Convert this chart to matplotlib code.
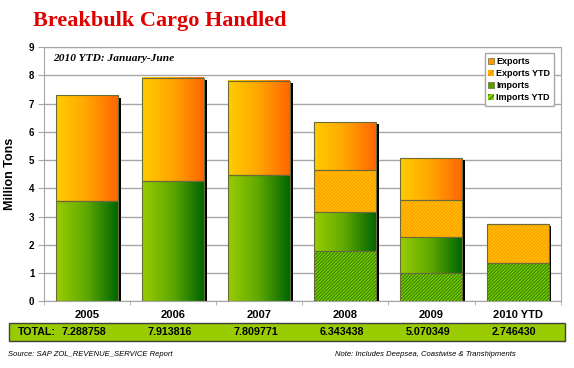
import numpy as np
import matplotlib
matplotlib.use('Agg')
import matplotlib.pyplot as plt
from matplotlib.colors import LinearSegmentedColormap
from matplotlib.patches import Rectangle, Patch

# Dados (milhões de toneladas)
years = ['2005', '2006', '2007', '2008', '2009', '2010 YTD']
imports_ytd = [0, 0, 0, 1.78, 1.00, 1.35]
imports = [3.55, 4.26, 4.48, 1.40, 1.27, 0]
exports_ytd = [0, 0, 0, 1.48, 1.32, 1.396]
exports = [3.739, 3.654, 3.33, 1.683, 1.48, 0]
totals = ['7.288758', '7.913816', '7.809771', '6.343438', '5.070349', '2.746430']

plt.rcParams['font.family'] = 'Liberation Sans'
plt.rcParams['hatch.linewidth'] = 0.9

fig = plt.figure(figsize=(5.74, 3.68), dpi=100)
ax = fig.add_axes([0.0767, 0.181, 0.900, 0.691])

x = np.arange(len(years))
w = 0.72
edge = '#6b6b3a'

cmap_orange = LinearSegmentedColormap.from_list('or', ['#FFCC00', '#FFA500', '#FF6600'])
cmap_green = LinearSegmentedColormap.from_list('gr', ['#99CC00', '#5EA800', '#006600'])
grad = np.linspace(0, 1, 128).reshape(1, -1)

b0 = np.zeros(len(years))
b1 = b0 + np.array(imports_ytd)
b2 = b1 + np.array(imports)
b3 = b2 + np.array(exports_ytd)
top = b3 + np.array(exports)

# sombra preta
ax.bar(x + 0.03, top - 0.08, w, color='black', zorder=1.5)


def hatched(vals, bottom, face, stripe):
    ax.bar(x, vals, w, bottom=bottom, facecolor=face, edgecolor=stripe,
           hatch='//////////', linewidth=0, zorder=2)
    ax.bar(x, vals, w, bottom=bottom, fill=False, edgecolor=edge,
           linewidth=0.8, zorder=3)


def gradient(vals, bottom, cmap):
    bars = ax.bar(x, vals, w, bottom=bottom, fill=False, edgecolor=edge,
                  linewidth=0.8, zorder=3)
    for r in bars:
        if r.get_height() <= 0:
            continue
        x0, y0 = r.get_x(), r.get_y()
        ax.imshow(grad, extent=[x0, x0 + r.get_width(), y0, y0 + r.get_height()],
                  aspect='auto', cmap=cmap, zorder=2, interpolation='bilinear')


hatched(imports_ytd, b0, '#8CD000', '#2E8A00')
gradient(imports, b1, cmap_green)
hatched(exports_ytd, b2, '#FF9900', '#FFC400')
gradient(exports, b3, cmap_orange)

ax.set_xlim(-0.5, len(years) - 0.5)
ax.set_ylim(0, 9)
ax.set_yticks(range(0, 10))
ax.yaxis.grid(True, color='#a6a6a6', linewidth=1.0, zorder=0)
ax.set_axisbelow(True)
for s in ax.spines.values():
    s.set_color('#a6a6a6')
ax.tick_params(axis='y', length=4, color='#a6a6a6', labelsize=7, pad=3)
for lab in ax.get_yticklabels():
    lab.set_fontweight('bold')
ax.set_xticks(x)
ax.set_xticklabels(years, fontsize=8, fontweight='bold')
ax.tick_params(axis='x', length=0, pad=6)
ax.set_xticks(np.arange(-0.5, len(years)), minor=True)
ax.tick_params(axis='x', which='minor', length=3, color='#a6a6a6')
ax.set_ylabel('Million Tons', fontsize=9, fontweight='bold', labelpad=9)

ax.text(0.017, 0.955, '2010 YTD: January-June', transform=ax.transAxes,
        fontsize=8.2, fontweight='bold', style='italic', family='Liberation Serif',
        va='center')

handles = [
    Patch(facecolor='#FF9900', edgecolor=edge, linewidth=0.5),
    Patch(facecolor='#FF9900', edgecolor='#FFC400', hatch='//////', linewidth=0),
    Patch(facecolor='#4FA000', edgecolor=edge, linewidth=0.5),
    Patch(facecolor='#8CD000', edgecolor='#2E8A00', hatch='//////', linewidth=0),
]
leg = ax.legend(handles, ['Exports', 'Exports YTD', 'Imports', 'Imports YTD'],
                loc='upper right', bbox_to_anchor=(0.987, 0.976), borderaxespad=0,
                prop={'size': 6.5, 'weight': 'bold'}, handlelength=0.6,
                handleheight=0.6, handletextpad=0.3, labelspacing=0.35,
                borderpad=0.4, fancybox=False, framealpha=1, edgecolor='#a6a6a6')
leg.set_zorder(5)

# título
fig.text(0.057, 0.943, 'Breakbulk Cargo Handled', fontsize=16, fontweight='bold',
         family='Liberation Serif', color='#E00000', va='center')

# linha de totais
fig.patches.append(Rectangle((9 / 574, 1 - 341 / 368), 556 / 574, 18 / 368,
                             transform=fig.transFigure, facecolor='#99CC00',
                             edgecolor='#404040', linewidth=1.0, zorder=1))
ty = 1 - 332 / 368
fig.text(18 / 574, ty, 'TOTAL:', fontsize=7.7, fontweight='bold', va='center')
for i, t in enumerate(totals):
    xd = ax.transData.transform((x[i] - 0.04, 0))[0]
    xf = fig.transFigure.inverted().transform((xd, 0))[0]
    fig.text(xf, ty, t, fontsize=7.7, fontweight='bold', va='center', ha='center')

fig.text(8 / 574, 1 - 355 / 368, 'Source: SAP ZOL_REVENUE_SERVICE Report',
         fontsize=5.5, style='italic', va='center')
fig.text(335 / 574, 1 - 355 / 368, 'Note: Includes Deepsea, Coastwise & Transhipments',
         fontsize=5.5, style='italic', va='center')

fig.savefig('out.png', dpi=100)
